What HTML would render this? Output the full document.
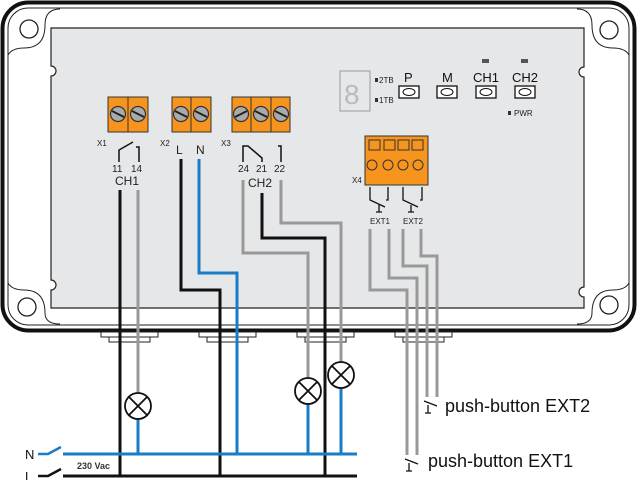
<!DOCTYPE html>
<html><head><meta charset="utf-8"><style>
html,body{margin:0;padding:0;background:#fff}
svg{display:block}
text{font-family:"Liberation Sans",Arial,sans-serif}
</style></head><body>
<svg width="637" height="480" viewBox="0 0 637 480" xmlns="http://www.w3.org/2000/svg">
<!-- enclosure -->
<rect x="2.5" y="2.5" width="632" height="328" rx="26" fill="#fff" stroke="#111" stroke-width="4"/>
<rect x="8" y="8" width="621" height="317" rx="20" fill="none" stroke="#222" stroke-width="1"/>
<!-- corner ears -->
<g fill="none" stroke="#222" stroke-width="1">
<path d="M8,55 Q12,48 24,48 Q45,48 45,25 Q45,9 60,9"/>
<path d="M8,283 Q12,290 24,290 Q45,290 45,313 Q45,324 60,324"/>
<path d="M629,55 Q625,48 613,48 Q592,48 592,25 Q592,9 577,9"/>
<path d="M629,283 Q625,290 613,290 Q592,290 592,313 Q592,324 577,324"/>
</g>
<circle cx="29" cy="29" r="9" fill="none" stroke="#222" stroke-width="1.3"/>
<circle cx="27" cy="307" r="9" fill="none" stroke="#222" stroke-width="1.3"/>
<circle cx="609" cy="30" r="9" fill="none" stroke="#222" stroke-width="1.3"/>
<circle cx="609" cy="305" r="9" fill="none" stroke="#222" stroke-width="1.3"/>
<!-- panel -->
<path d="M51,28 H584 V67 A5,5 0 0 0 584,77 V287 A5,5 0 0 0 584,297 V308 H51 V290 A5,5 0 0 0 51,280 V76 A5,5 0 0 0 51,66 Z" fill="#e6e7e9" stroke="#222" stroke-width="1.2"/>
<!-- glands -->
<g fill="#fff" stroke="#222" stroke-width="1">
<rect x="101" y="332" width="57" height="5"/><rect x="109" y="337" width="41" height="5"/>
<rect x="199" y="332" width="57" height="5"/><rect x="207" y="337" width="41" height="5"/>
<rect x="297" y="332" width="57" height="5"/><rect x="305" y="337" width="41" height="5"/>
<rect x="395" y="332" width="57" height="5"/><rect x="403" y="337" width="41" height="5"/>
</g>
<!-- terminal blocks -->
<g stroke="#333" stroke-width="1">
<rect x="108" y="97" width="40" height="35" fill="#f7941d"/>
<rect x="172" y="97" width="39" height="35" fill="#f7941d"/>
<rect x="232" y="97" width="58" height="35" fill="#f7941d"/>
<line x1="128" y1="97" x2="128" y2="132"/><line x1="191" y1="97" x2="191" y2="132"/>
<line x1="251" y1="97" x2="251" y2="132"/><line x1="271" y1="97" x2="271" y2="132"/>
</g>
<g fill="#aaa" stroke="#333" stroke-width="1.2">
<circle cx="118" cy="114" r="7.5"/><circle cx="138" cy="114" r="7.5"/>
<circle cx="181" cy="114" r="7.5"/><circle cx="201" cy="114" r="7.5"/>
<circle cx="241" cy="114" r="7.5"/><circle cx="261" cy="114" r="7.5"/><circle cx="281" cy="114" r="7.5"/>
</g>
<g stroke="#222" stroke-width="2">
<line x1="112" y1="111" x2="124" y2="117"/><line x1="132" y1="111" x2="144" y2="117"/>
<line x1="175" y1="111" x2="187" y2="117"/><line x1="195" y1="111" x2="207" y2="117"/>
<line x1="235" y1="117" x2="247" y2="111"/><line x1="255" y1="111" x2="267" y2="117"/><line x1="275" y1="111" x2="287" y2="117"/>
</g>
<g font-size="8" fill="#222">
<text x="97" y="146">X1</text><text x="160" y="146">X2</text><text x="221" y="146">X3</text><text x="352" y="183">X4</text>
</g>
<!-- relay contacts -->
<g fill="none" stroke="#111" stroke-width="1.5">
<path d="M119,162 V150 L133,142"/><path d="M136,147 H139 V162"/>
<path d="M243,162 V146 H248 L262,158 V162"/><path d="M278,146 H281 V162"/>
</g>
<g font-size="10" fill="#222">
<text x="112" y="172">11</text><text x="131" y="172">14</text>
<text x="238" y="172">24</text><text x="256" y="172">21</text><text x="274" y="172">22</text>
</g>
<g font-size="12" fill="#222">
<text x="115" y="185">CH1</text><text x="248" y="187">CH2</text>
<text x="176" y="154">L</text><text x="196" y="154">N</text>
</g>
<!-- internal wires -->
<g fill="none" stroke-width="3">
<path d="M120,190 V476" stroke="#111"/>
<path d="M138,190 V393" stroke="#999"/>
<path d="M181,159 V290 H220 V476" stroke="#111"/>
<path d="M199,159 V273 H237 V454" stroke="#1a7bc6"/>
<path d="M243,180 V253 H308 V378" stroke="#999"/>
<path d="M262,193 V238 H325 V476" stroke="#111"/>
<path d="M281,180 V223 H341 V362" stroke="#999"/>
<path d="M370,229 V290 H407 V455" stroke="#999"/>
<path d="M389,229 V278 H417 V455" stroke="#999"/>
<path d="M403,229 V266 H427 V397" stroke="#999"/>
<path d="M421,229 V256 H437 V397" stroke="#999"/>
</g>
<!-- lamps -->
<g fill="none" stroke-width="3">
<path d="M138,419 V454" stroke="#1a7bc6"/>
<path d="M308,404 V454" stroke="#1a7bc6"/>
<path d="M341,388 V454" stroke="#1a7bc6"/>
</g>
<g fill="#fff" stroke="#111" stroke-width="1.8">
<circle cx="138" cy="406" r="13"/><circle cx="308" cy="391" r="13"/><circle cx="341" cy="375" r="13"/>
</g>
<g stroke="#111" stroke-width="1.8">
<path d="M129,397 L147,415 M147,397 L129,415"/>
<path d="M299,382 L317,400 M317,382 L299,400"/>
<path d="M332,366 L350,384 M350,366 L332,384"/>
</g>
<!-- buses -->
<path d="M63,454 H357" stroke="#1a7bc6" stroke-width="3"/>
<path d="M63,476 H357" stroke="#111" stroke-width="3"/>
<path d="M38,454 H48 L61,447" stroke="#1a7bc6" stroke-width="2.5" fill="none"/>
<path d="M38,476 H48 L61,469" stroke="#111" stroke-width="2.5" fill="none"/>
<text x="25" y="459" font-size="13" fill="#111">N</text>
<text x="25" y="481" font-size="13" fill="#111">L</text>
<text x="77" y="469" font-size="9" font-weight="bold" fill="#333">230 Vac</text>
<!-- X4 -->
<rect x="365" y="136" width="63" height="49" fill="#f7941d" stroke="#333"/>
<g fill="#f7941d" stroke="#333" stroke-width="1">
<rect x="369" y="140" width="11" height="10"/><rect x="384" y="140" width="11" height="10"/><rect x="398" y="140" width="11" height="10"/><rect x="412" y="140" width="11" height="10"/>
<circle cx="372" cy="165" r="5"/><circle cx="388" cy="165" r="5"/><circle cx="403" cy="165" r="5"/><circle cx="418" cy="165" r="5"/>
</g>
<g fill="none" stroke="#111" stroke-width="1.3">
<path d="M370,187 V200 L385,207 M388,187 V200 H386"/>
<path d="M403,187 V200 L418,207 M422,187 V200 H420"/>
<path d="M379,205 V212 M376,212 H382"/><path d="M411,205 V212 M408,212 H414"/>
</g>
<g font-size="8" fill="#222"><text x="370" y="224">EXT1</text><text x="403" y="224">EXT2</text></g>
<!-- display and buttons -->
<rect x="340" y="71" width="30" height="40" fill="#e6e7e9" stroke="#999"/>
<text x="344" y="104" font-size="28" fill="#bbb" font-family="Liberation Mono">8</text>
<g fill="#333"><rect x="375" y="78" width="3" height="4"/><rect x="375" y="98" width="3" height="4"/><rect x="508" y="111" width="3" height="4"/></g>
<g font-size="8" fill="#222"><text x="379" y="83">2TB</text><text x="379" y="103">1TB</text><text x="514" y="116">PWR</text></g>
<g font-size="13" fill="#111"><text x="404" y="82">P</text><text x="442" y="82">M</text><text x="473" y="82">CH1</text><text x="512" y="82">CH2</text></g>
<g fill="#fff" stroke="#111" stroke-width="1.3">
<rect x="399" y="86" width="20" height="12"/><rect x="437" y="86" width="20" height="12"/><rect x="476" y="86" width="20" height="12"/><rect x="515" y="86" width="20" height="12"/>
</g>
<g fill="none" stroke="#111" stroke-width="1">
<ellipse cx="409" cy="92" rx="6" ry="3.5"/><ellipse cx="447" cy="92" rx="6" ry="3.5"/><ellipse cx="486" cy="92" rx="6" ry="3.5"/><ellipse cx="525" cy="92" rx="6" ry="3.5"/>
</g>
<g fill="#555"><rect x="482" y="59" width="7" height="4"/><rect x="521" y="59" width="7" height="4"/></g>
<!-- push buttons -->
<g fill="none" stroke="#111" stroke-width="1.3">
<path d="M424,401 L437,406 M428,405 V413 M425,413 H431"/>
<path d="M405,459 L418,464 M409,463 V471 M406,471 H412"/>
</g>
<text x="445" y="412" font-size="18" fill="#111">push-button EXT2</text>
<text x="428" y="467" font-size="18" fill="#111">push-button EXT1</text>
</svg>
</body></html>
